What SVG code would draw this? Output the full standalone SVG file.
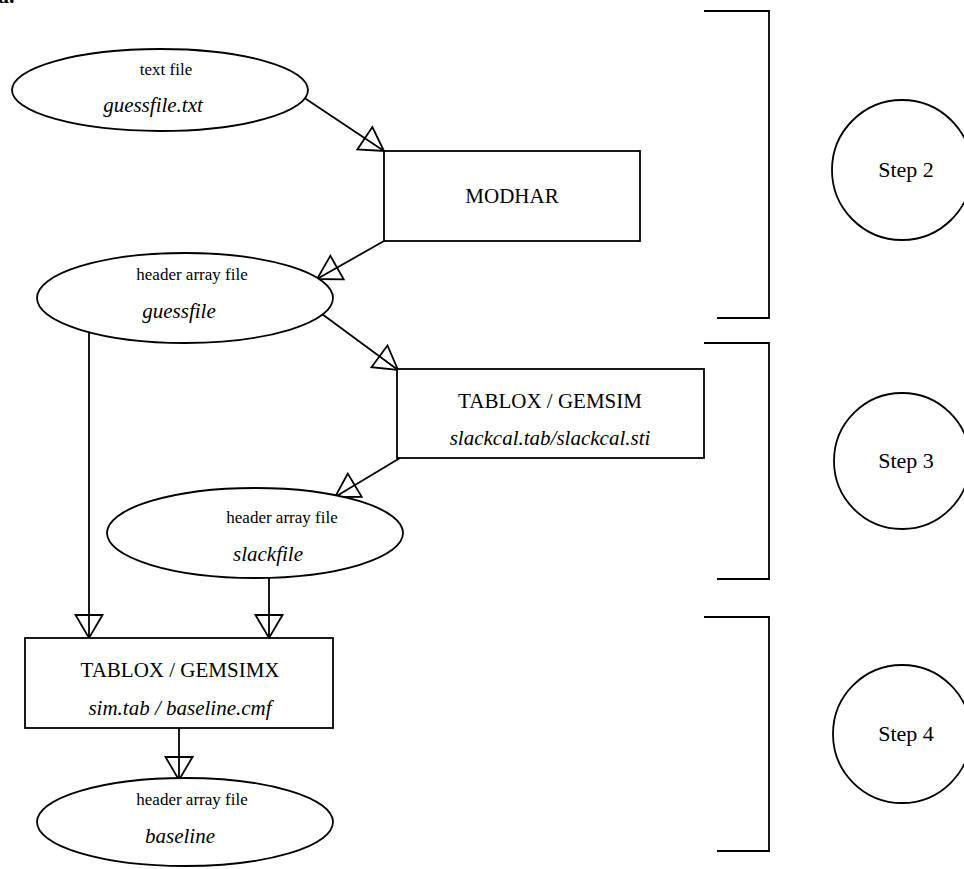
<svg xmlns="http://www.w3.org/2000/svg" width="964" height="869" viewBox="0 0 964 869">
<style>
  .shape { fill: #fff; stroke: #000; stroke-width: 1.8; }
  .line { fill: none; stroke: #000; stroke-width: 1.8; }
  .sm { font-family: "Liberation Serif", "Times New Roman", serif; font-size: 17px; text-anchor: middle; fill: #000; }
  .lg { font-family: "Liberation Serif", "Times New Roman", serif; font-size: 21px; text-anchor: middle; fill: #000; }
  .it { font-style: italic; }
  .step { font-family: "Liberation Serif", "Times New Roman", serif; font-size: 22px; text-anchor: middle; fill: #000; }
</style>
<defs>
  <marker id="arr" markerWidth="30" markerHeight="30" refX="25" refY="15" orient="auto" markerUnits="userSpaceOnUse" viewBox="0 0 30 30" overflow="visible">
    <path d="M2,1.5 L25,15 L2,28.5 Z" fill="none" stroke="#000" stroke-width="1.8"/>
  </marker>
</defs>
<rect width="964" height="869" fill="#fff"/>
<text x="-2" y="3" font-family="Liberation Serif, serif" font-size="22" font-weight="bold">a.</text>

<g id="connectors">
  <line class="line" x1="303" y1="97" x2="384" y2="151" marker-end="url(#arr)"/>
  <line class="line" x1="384" y1="241" x2="317" y2="279" marker-end="url(#arr)"/>
  <line class="line" x1="322" y1="314" x2="398" y2="370" marker-end="url(#arr)"/>
  <line class="line" x1="400" y1="458" x2="335" y2="497" marker-end="url(#arr)"/>
  <line class="line" x1="89" y1="330" x2="89" y2="638" marker-end="url(#arr)"/>
  <line class="line" x1="269" y1="578" x2="269" y2="638" marker-end="url(#arr)"/>
  <line class="line" x1="179" y1="728" x2="179" y2="780" marker-end="url(#arr)"/>
</g>

<g id="textfile">
  <ellipse class="shape" cx="160" cy="90" rx="148" ry="41"/>
  <text class="sm" x="166" y="75">text file</text>
  <text class="lg it" x="153" y="112">guessfile.txt</text>
</g>

<g id="modhar">
  <rect class="shape" x="384" y="151" width="256" height="90"/>
  <text class="lg" x="512" y="203">MODHAR</text>
</g>

<g id="guessfile">
  <ellipse class="shape" cx="185" cy="298" rx="148" ry="45"/>
  <text class="sm" x="192" y="280">header array file</text>
  <text class="lg it" x="179" y="318">guessfile</text>
</g>

<g id="gemsim">
  <rect class="shape" x="397" y="369" width="307" height="89"/>
  <text class="lg" x="550" y="408">TABLOX / GEMSIM</text>
  <text class="lg it" x="550" y="445">slackcal.tab/slackcal.sti</text>
</g>

<g id="slackfile">
  <ellipse class="shape" cx="255" cy="533" rx="148" ry="45"/>
  <text class="sm" x="282" y="523">header array file</text>
  <text class="lg it" x="268" y="561">slackfile</text>
</g>

<g id="gemsimx">
  <rect class="shape" x="25" y="638" width="308" height="90"/>
  <text class="lg" x="180" y="677">TABLOX / GEMSIMX</text>
  <text class="lg it" x="180" y="715">sim.tab / baseline.cmf</text>
</g>

<g id="baseline">
  <ellipse class="shape" cx="185" cy="822" rx="148" ry="44"/>
  <text class="sm" x="192" y="805">header array file</text>
  <text class="lg it" x="180" y="843">baseline</text>
</g>

<g id="bracket2">
  <path class="line" d="M704,11 H769 V318 H717"/>
</g>
<g id="step2">
  <circle class="shape" cx="902" cy="170" r="70"/>
  <text class="step" x="906" y="177">Step 2</text>
</g>

<g id="bracket3">
  <path class="line" d="M704,343 H769 V579 H717"/>
</g>
<g id="step3">
  <circle class="shape" cx="902" cy="461" r="68"/>
  <text class="step" x="906" y="468">Step 3</text>
</g>

<g id="bracket4">
  <path class="line" d="M704,617 H769 V851 H717"/>
</g>
<g id="step4">
  <circle class="shape" cx="902" cy="734" r="69"/>
  <text class="step" x="906" y="741">Step 4</text>
</g>
</svg>
